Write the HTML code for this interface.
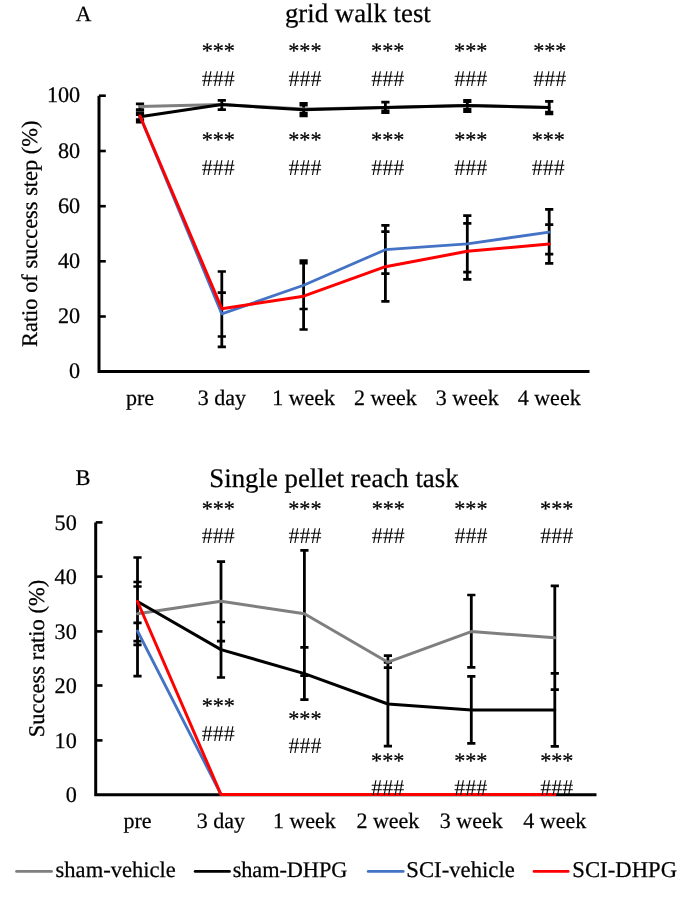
<!DOCTYPE html>
<html><head><meta charset="utf-8"><title>Figure</title>
<style>
html,body{margin:0;padding:0;background:#fff;}
body{width:685px;height:899px;overflow:hidden;}
svg{display:block;will-change:transform;}
text{font-family:"Liberation Serif", serif;fill:#000;stroke:#000;stroke-width:0.25px;text-rendering:geometricPrecision;}
</style></head><body>
<svg width="685" height="899" viewBox="0 0 685 899">
<rect width="685" height="899" fill="#fff"/>
<text x="75.7" y="20.8" font-size="21.6" text-anchor="start">A</text>
<text x="284.95" y="22" font-size="26.8" text-anchor="start">grid walk test</text>
<path d="M99 95.7 V371.6 H589.5" fill="none" stroke="#000" stroke-width="3" stroke-linejoin="miter"/>
<line x1="99" y1="95.7" x2="105.8" y2="95.7" stroke="#000" stroke-width="2.6"/>
<text x="80.2" y="102.2" font-size="22.2" text-anchor="end">100</text>
<line x1="99" y1="151" x2="105.8" y2="151" stroke="#000" stroke-width="2.6"/>
<text x="80.2" y="157.5" font-size="22.2" text-anchor="end">80</text>
<line x1="99" y1="206.2" x2="105.8" y2="206.2" stroke="#000" stroke-width="2.6"/>
<text x="80.2" y="212.7" font-size="22.2" text-anchor="end">60</text>
<line x1="99" y1="261.3" x2="105.8" y2="261.3" stroke="#000" stroke-width="2.6"/>
<text x="80.2" y="267.8" font-size="22.2" text-anchor="end">40</text>
<line x1="99" y1="316.5" x2="105.8" y2="316.5" stroke="#000" stroke-width="2.6"/>
<text x="80.2" y="323" font-size="22.2" text-anchor="end">20</text>
<text x="80.2" y="378.1" font-size="22.2" text-anchor="end">0</text>
<text x="0" y="0" font-size="22.4" text-anchor="middle" transform="translate(36.6 233.8) rotate(-90)">Ratio of success step (%)</text>
<text x="140" y="405.2" font-size="22" text-anchor="middle">pre</text>
<text x="221.8" y="405.2" font-size="22" text-anchor="middle">3 day</text>
<text x="303.6" y="405.2" font-size="22" text-anchor="middle">1 week</text>
<text x="385.4" y="405.2" font-size="22" text-anchor="middle">2 week</text>
<text x="467.3" y="405.2" font-size="22" text-anchor="middle">3 week</text>
<text x="549.2" y="405.2" font-size="22" text-anchor="middle">4 week</text>
<path d="M140 103.8V109.6M140 112.5V122.1" stroke="#000" stroke-width="2.8" fill="none"/><path d="M135.9 103.8H144.1M135.9 109.6H144.1M135.9 112.5H144.1M135.9 114.7H144.1M135.9 119.5H144.1M135.9 122.1H144.1" stroke="#000" stroke-width="2.7" fill="none"/>
<path d="M221.8 100.3V109.7" stroke="#000" stroke-width="2.8" fill="none"/><path d="M217.7 100.3H225.9M217.7 109.7H225.9" stroke="#000" stroke-width="2.7" fill="none"/>
<path d="M303.6 103.3V115.8" stroke="#000" stroke-width="2.8" fill="none"/><path d="M299.5 103.3H307.7M299.5 105.2H307.7M299.5 113.2H307.7M299.5 115.8H307.7" stroke="#000" stroke-width="2.7" fill="none"/>
<path d="M385.4 102.2V112.6" stroke="#000" stroke-width="2.8" fill="none"/><path d="M381.3 102.2H389.5M381.3 110.9H389.5M381.3 111.5H389.5M381.3 112.6H389.5" stroke="#000" stroke-width="2.7" fill="none"/>
<path d="M467.3 100.4V111.6" stroke="#000" stroke-width="2.8" fill="none"/><path d="M463.2 100.4H471.4M463.2 101.7H471.4M463.2 109.3H471.4M463.2 111.6H471.4" stroke="#000" stroke-width="2.7" fill="none"/>
<path d="M549.2 101.4V113.8" stroke="#000" stroke-width="2.8" fill="none"/><path d="M545.1 101.4H553.3M545.1 112.2H553.3M545.1 113.8H553.3" stroke="#000" stroke-width="2.7" fill="none"/>
<path d="M221.8 271.5V346.8" stroke="#000" stroke-width="2.8" fill="none"/><path d="M217.7 271.5H225.9M217.7 292.7H225.9M217.7 336.5H225.9M217.7 346.8H225.9" stroke="#000" stroke-width="2.7" fill="none"/>
<path d="M303.6 260.5V329.5" stroke="#000" stroke-width="2.8" fill="none"/><path d="M299.5 260.5H307.7M299.5 263.2H307.7M299.5 309H307.7M299.5 329.5H307.7" stroke="#000" stroke-width="2.7" fill="none"/>
<path d="M385.4 225.3V301.3" stroke="#000" stroke-width="2.8" fill="none"/><path d="M381.3 225.3H389.5M381.3 231.7H389.5M381.3 273.6H389.5M381.3 301.3H389.5" stroke="#000" stroke-width="2.7" fill="none"/>
<path d="M467.3 215.6V279.4" stroke="#000" stroke-width="2.8" fill="none"/><path d="M463.2 215.6H471.4M463.2 223.3H471.4M463.2 272.2H471.4M463.2 279.4H471.4" stroke="#000" stroke-width="2.7" fill="none"/>
<path d="M549.2 209.4V263.3" stroke="#000" stroke-width="2.8" fill="none"/><path d="M545.1 209.4H553.3M545.1 224.7H553.3M545.1 254.2H553.3M545.1 263.3H553.3" stroke="#000" stroke-width="2.7" fill="none"/>
<polyline points="140,106.5 221.8,104.6 303.6,109 385.4,107.5 467.3,105.5 549.2,107.5" fill="none" stroke="#7f7f7f" stroke-width="3.0" stroke-linejoin="round" stroke-linecap="round"/>
<polyline points="140,116.8 221.8,104.6 303.6,109.8 385.4,107.5 467.3,105.5 549.2,107.5" fill="none" stroke="#000000" stroke-width="3.0" stroke-linejoin="round" stroke-linecap="round"/>
<polyline points="140,116.3 221.8,313.9 303.6,285.2 385.4,249.7 467.3,243.8 549.2,232.2" fill="none" stroke="#4472c4" stroke-width="2.8" stroke-linejoin="round" stroke-linecap="round"/>
<polyline points="140,116 221.8,308.7 303.6,296.2 385.4,266.7 467.3,251.3 549.2,244.1" fill="none" stroke="#ff0000" stroke-width="3.0" stroke-linejoin="round" stroke-linecap="round"/>
<text x="218.3" y="57.6" font-size="22.2" text-anchor="middle">***</text><text x="218.3" y="85.7" font-size="22.6" text-anchor="middle" style="stroke:none" textLength="33" lengthAdjust="spacingAndGlyphs">###</text>
<text x="304.9" y="57.6" font-size="22.2" text-anchor="middle">***</text><text x="304.9" y="85.7" font-size="22.6" text-anchor="middle" style="stroke:none" textLength="33" lengthAdjust="spacingAndGlyphs">###</text>
<text x="387.7" y="57.6" font-size="22.2" text-anchor="middle">***</text><text x="387.7" y="85.7" font-size="22.6" text-anchor="middle" style="stroke:none" textLength="33" lengthAdjust="spacingAndGlyphs">###</text>
<text x="470.7" y="57.6" font-size="22.2" text-anchor="middle">***</text><text x="470.7" y="85.7" font-size="22.6" text-anchor="middle" style="stroke:none" textLength="33" lengthAdjust="spacingAndGlyphs">###</text>
<text x="549.8" y="57.6" font-size="22.2" text-anchor="middle">***</text><text x="549.8" y="85.7" font-size="22.6" text-anchor="middle" style="stroke:none" textLength="33" lengthAdjust="spacingAndGlyphs">###</text>
<text x="218.3" y="147.3" font-size="22.2" text-anchor="middle">***</text><text x="218.3" y="174.9" font-size="22.6" text-anchor="middle" style="stroke:none" textLength="33" lengthAdjust="spacingAndGlyphs">###</text>
<text x="304.9" y="147.3" font-size="22.2" text-anchor="middle">***</text><text x="304.9" y="174.9" font-size="22.6" text-anchor="middle" style="stroke:none" textLength="33" lengthAdjust="spacingAndGlyphs">###</text>
<text x="387.7" y="147.3" font-size="22.2" text-anchor="middle">***</text><text x="387.7" y="174.9" font-size="22.6" text-anchor="middle" style="stroke:none" textLength="33" lengthAdjust="spacingAndGlyphs">###</text>
<text x="470.8" y="147.3" font-size="22.2" text-anchor="middle">***</text><text x="470.8" y="174.9" font-size="22.6" text-anchor="middle" style="stroke:none" textLength="33" lengthAdjust="spacingAndGlyphs">###</text>
<text x="548.3" y="147.3" font-size="22.2" text-anchor="middle">***</text><text x="548.3" y="174.9" font-size="22.6" text-anchor="middle" style="stroke:none" textLength="33" lengthAdjust="spacingAndGlyphs">###</text>
<text x="75.5" y="484.8" font-size="22.4" text-anchor="start">B</text>
<text x="209.3" y="486.8" font-size="26.8" text-anchor="start">Single pellet reach task</text>
<path d="M95.7 522.4 V794.7 H596.5" fill="none" stroke="#000" stroke-width="3" stroke-linejoin="miter"/>
<line x1="95.7" y1="522.4" x2="102.5" y2="522.4" stroke="#000" stroke-width="2.6"/>
<text x="76.8" y="529.8" font-size="22.2" text-anchor="end">50</text>
<line x1="95.7" y1="576.6" x2="102.5" y2="576.6" stroke="#000" stroke-width="2.6"/>
<text x="76.8" y="584" font-size="22.2" text-anchor="end">40</text>
<line x1="95.7" y1="631.4" x2="102.5" y2="631.4" stroke="#000" stroke-width="2.6"/>
<text x="76.8" y="638.8" font-size="22.2" text-anchor="end">30</text>
<line x1="95.7" y1="685.5" x2="102.5" y2="685.5" stroke="#000" stroke-width="2.6"/>
<text x="76.8" y="692.9" font-size="22.2" text-anchor="end">20</text>
<line x1="95.7" y1="740.4" x2="102.5" y2="740.4" stroke="#000" stroke-width="2.6"/>
<text x="76.8" y="747.8" font-size="22.2" text-anchor="end">10</text>
<text x="76.8" y="802.1" font-size="22.2" text-anchor="end">0</text>
<text x="0" y="0" font-size="22.5" text-anchor="middle" transform="translate(44 658.5) rotate(-90)">Success ratio (%)</text>
<text x="137.5" y="827.8" font-size="22" text-anchor="middle">pre</text>
<text x="221" y="827.8" font-size="22" text-anchor="middle">3 day</text>
<text x="304.4" y="827.8" font-size="22" text-anchor="middle">1 week</text>
<text x="387.9" y="827.8" font-size="22" text-anchor="middle">2 week</text>
<text x="471.3" y="827.8" font-size="22" text-anchor="middle">3 week</text>
<text x="554.8" y="827.8" font-size="22" text-anchor="middle">4 week</text>
<path d="M137.5 557.5V676.2" stroke="#000" stroke-width="2.8" fill="none"/><path d="M133.4 557.5H141.6M133.4 582H141.6M133.4 586.5H141.6M133.4 622.8H141.6M133.4 641.2H141.6M133.4 644.8H141.6M133.4 676.2H141.6" stroke="#000" stroke-width="2.7" fill="none"/>
<path d="M221 561.7V677.5" stroke="#000" stroke-width="2.8" fill="none"/><path d="M216.9 561.7H225.1M216.9 622H225.1M216.9 641.2H225.1M216.9 677.5H225.1" stroke="#000" stroke-width="2.7" fill="none"/>
<path d="M304.4 550.4V699.6" stroke="#000" stroke-width="2.8" fill="none"/><path d="M300.3 550.4H308.5M300.3 647.4H308.5M300.3 675.6H308.5M300.3 699.6H308.5" stroke="#000" stroke-width="2.7" fill="none"/>
<path d="M387.9 655.7V746.2" stroke="#000" stroke-width="2.8" fill="none"/><path d="M383.8 655.7H392M383.8 662.4H392M383.8 667.7H392M383.8 746.2H392" stroke="#000" stroke-width="2.7" fill="none"/>
<path d="M471.3 595V667.4M471.3 676.4V743.4" stroke="#000" stroke-width="2.8" fill="none"/><path d="M467.2 595H475.4M467.2 667.4H475.4M467.2 676.4H475.4M467.2 743.4H475.4" stroke="#000" stroke-width="2.7" fill="none"/>
<path d="M554.8 585.8V746.4" stroke="#000" stroke-width="2.8" fill="none"/><path d="M550.7 585.8H558.9M550.7 673.4H558.9M550.7 689.6H558.9M550.7 746.4H558.9" stroke="#000" stroke-width="2.7" fill="none"/>
<polyline points="137.5,613.8 221,601.3 304.4,613.7 387.9,662.2 471.3,631.6 554.8,637.7" fill="none" stroke="#7f7f7f" stroke-width="3.0" stroke-linejoin="round" stroke-linecap="round"/>
<polyline points="137.5,601.5 221,649.6 304.4,673.6 387.9,704 471.3,710.1 554.8,710" fill="none" stroke="#000000" stroke-width="3.0" stroke-linejoin="round" stroke-linecap="round"/>
<polyline points="137.5,631 221,794.6 304.4,794.6 387.9,794.6 471.3,794.6 554.8,794.6" fill="none" stroke="#4472c4" stroke-width="2.8" stroke-linejoin="round" stroke-linecap="round"/>
<polyline points="137.5,601.5 221,794.6 304.4,794.6 387.9,794.6 471.3,794.6 554.8,794.6" fill="none" stroke="#ff0000" stroke-width="3.0" stroke-linejoin="round" stroke-linecap="round"/>
<text x="218.3" y="515.5" font-size="22.2" text-anchor="middle">***</text><text x="218.3" y="543.2" font-size="22.6" text-anchor="middle" style="stroke:none" textLength="33" lengthAdjust="spacingAndGlyphs">###</text>
<text x="304.9" y="515.5" font-size="22.2" text-anchor="middle">***</text><text x="304.9" y="543.2" font-size="22.6" text-anchor="middle" style="stroke:none" textLength="33" lengthAdjust="spacingAndGlyphs">###</text>
<text x="388.3" y="515.5" font-size="22.2" text-anchor="middle">***</text><text x="388.3" y="543.2" font-size="22.6" text-anchor="middle" style="stroke:none" textLength="33" lengthAdjust="spacingAndGlyphs">###</text>
<text x="470.9" y="515.5" font-size="22.2" text-anchor="middle">***</text><text x="470.9" y="543.2" font-size="22.6" text-anchor="middle" style="stroke:none" textLength="33" lengthAdjust="spacingAndGlyphs">###</text>
<text x="556.7" y="515.5" font-size="22.2" text-anchor="middle">***</text><text x="556.7" y="543.2" font-size="22.6" text-anchor="middle" style="stroke:none" textLength="33" lengthAdjust="spacingAndGlyphs">###</text>
<text x="218.3" y="712.5" font-size="22.2" text-anchor="middle">***</text><text x="218.3" y="740.5" font-size="22.6" text-anchor="middle" style="stroke:none" textLength="33" lengthAdjust="spacingAndGlyphs">###</text>
<text x="304.9" y="725.5" font-size="22.2" text-anchor="middle">***</text><text x="304.9" y="753" font-size="22.6" text-anchor="middle" style="stroke:none" textLength="33" lengthAdjust="spacingAndGlyphs">###</text>
<text x="387.7" y="767.6" font-size="22.2" text-anchor="middle">***</text><text x="387.7" y="795.2" font-size="22.6" text-anchor="middle" style="stroke:none" textLength="33" lengthAdjust="spacingAndGlyphs">###</text>
<text x="470.8" y="767.7" font-size="22.2" text-anchor="middle">***</text><text x="470.8" y="795.1" font-size="22.6" text-anchor="middle" style="stroke:none" textLength="33" lengthAdjust="spacingAndGlyphs">###</text>
<text x="556.8" y="767.7" font-size="22.2" text-anchor="middle">***</text><text x="556.8" y="795.1" font-size="22.6" text-anchor="middle" style="stroke:none" textLength="33" lengthAdjust="spacingAndGlyphs">###</text>
<line x1="16.6" y1="871.4" x2="51.5" y2="871.4" stroke="#7f7f7f" stroke-width="2.9" stroke-linecap="round"/>
<text x="55.58" y="876.8" font-size="22.5" text-anchor="start" textLength="120.21" lengthAdjust="spacing">sham-vehicle</text>
<line x1="195.2" y1="871.4" x2="229.4" y2="871.4" stroke="#000" stroke-width="2.9" stroke-linecap="round"/>
<text x="232.69" y="876.8" font-size="22.3" text-anchor="start" textLength="114.63" lengthAdjust="spacing">sham-DHPG</text>
<line x1="368.2" y1="871.4" x2="403.2" y2="871.4" stroke="#4472c4" stroke-width="2.8" stroke-linecap="round"/>
<text x="406.29" y="876.8" font-size="22.6" text-anchor="start" textLength="108.48" lengthAdjust="spacing">SCI-vehicle</text>
<line x1="534.1" y1="871.4" x2="568.1" y2="871.4" stroke="#ff0000" stroke-width="2.9" stroke-linecap="round"/>
<text x="572.29" y="876.8" font-size="22.6" text-anchor="start" textLength="104.71" lengthAdjust="spacing">SCI-DHPG</text>
</svg>
</body></html>
